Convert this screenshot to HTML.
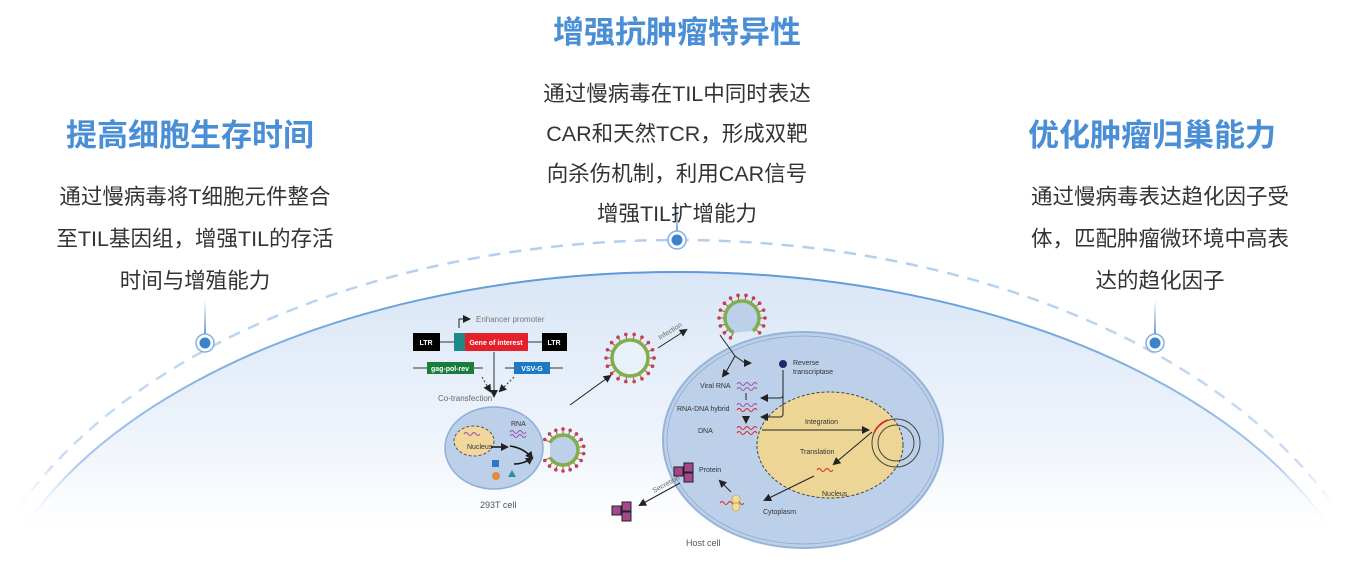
<!DOCTYPE html>
<html><head><meta charset="utf-8">
<style>
html,body{margin:0;padding:0;background:#fff;width:1350px;height:570px;overflow:hidden;}
body{position:relative;font-family:"Liberation Sans","Noto Sans CJK SC",sans-serif;}
.t{position:absolute;color:#4a8fd6;font-weight:bold;font-size:31px;text-align:center;white-space:nowrap;line-height:40px;}
.b{position:absolute;color:#333;font-size:21.5px;text-align:center;line-height:42px;white-space:nowrap;}
svg{position:absolute;left:0;top:0;}
</style></head><body>
<svg width="1350" height="570" viewBox="0 0 1350 570" font-family="Liberation Sans, sans-serif">
<defs>
<linearGradient id="dome" x1="0" y1="272" x2="0" y2="530" gradientUnits="userSpaceOnUse">
<stop offset="0" stop-color="#d9e6f6"/><stop offset="0.6" stop-color="#edf3fb"/><stop offset="1" stop-color="#ffffff"/>
</linearGradient>
<linearGradient id="edge" x1="0" y1="272" x2="0" y2="530" gradientUnits="userSpaceOnUse">
<stop offset="0" stop-color="#5d9ad9"/><stop offset="0.75" stop-color="#a9c8ec"/><stop offset="1" stop-color="#ffffff" stop-opacity="0"/>
</linearGradient>
<linearGradient id="dash" x1="0" y1="240" x2="0" y2="520" gradientUnits="userSpaceOnUse">
<stop offset="0" stop-color="#b3cfee"/><stop offset="0.8" stop-color="#c9dcf3"/><stop offset="1" stop-color="#fff" stop-opacity="0"/>
</linearGradient>
<linearGradient id="vl" x1="0" y1="0" x2="0" y2="1"><stop offset="0" stop-color="#ffffff"/><stop offset="1" stop-color="#4a8fd6"/></linearGradient>
<marker id="ah" markerWidth="8" markerHeight="8" refX="6" refY="4" orient="auto" markerUnits="userSpaceOnUse"><path d="M0,0 L8,4 L0,8 Z" fill="#222"/></marker>
</defs>
<ellipse cx="677" cy="672" rx="700" ry="400" fill="url(#dome)" stroke="url(#edge)" stroke-width="2"/>
<rect x="0" y="530" width="1350" height="40" fill="#fff"/>
<ellipse cx="677" cy="690" rx="720" ry="450" fill="none" stroke="url(#dash)" stroke-width="2.5" stroke-dasharray="12 9"/>
<rect x="0" y="540" width="1350" height="30" fill="#fff"/>
<rect x="204" y="300" width="2" height="40" fill="url(#vl)"/>
<rect x="676" y="205" width="2" height="32" fill="url(#vl)"/>
<rect x="1154" y="300" width="2" height="40" fill="url(#vl)"/>
<g fill="#fff" stroke="#7fb0e3" stroke-width="1.5">
<circle cx="205" cy="343" r="9"/><circle cx="677" cy="240" r="9"/><circle cx="1155" cy="343" r="9"/></g>
<g fill="#3f82cc"><circle cx="205" cy="343" r="5.5"/><circle cx="677" cy="240" r="5.5"/><circle cx="1155" cy="343" r="5.5"/></g>

<path d="M459,328 V319 H469" stroke="#222" fill="none" marker-end="url(#ah)"/>
<text x="476" y="322" font-size="8" fill="#777">Enhancer promoter</text>
<line x1="413" y1="342" x2="567" y2="342" stroke="#333"/>
<rect x="413" y="333" width="27" height="18" fill="#000"/><text x="426" y="345" font-size="7" fill="#fff" font-weight="bold" text-anchor="middle">LTR</text>
<rect x="454" y="333" width="11" height="18" fill="#1e8a86"/>
<rect x="465" y="333" width="63" height="18" fill="#e4202a"/><text x="496" y="345" font-size="7" fill="#fff" font-weight="bold" text-anchor="middle">Gene of interest</text>
<rect x="542" y="333" width="25" height="18" fill="#000"/><text x="554" y="345" font-size="7" fill="#fff" font-weight="bold" text-anchor="middle">LTR</text>
<line x1="413" y1="368" x2="483" y2="368" stroke="#333"/>
<rect x="427" y="362" width="47" height="12" fill="#1a7d3c"/><text x="450" y="371" font-size="7" fill="#fff" font-weight="bold" text-anchor="middle">gag-pol-rev</text>
<line x1="505" y1="368" x2="563" y2="368" stroke="#333"/>
<rect x="514" y="362" width="36" height="12" fill="#1e78c2"/><text x="532" y="371" font-size="7" fill="#fff" font-weight="bold" text-anchor="middle">VSV-G</text>
<line x1="494" y1="352" x2="494" y2="396" stroke="#333" marker-end="url(#ah)"/>
<line x1="482" y1="377" x2="490" y2="391" stroke="#333" stroke-dasharray="2 2" marker-end="url(#ah)"/>
<line x1="514" y1="377" x2="500" y2="391" stroke="#333" stroke-dasharray="2 2" marker-end="url(#ah)"/>
<text x="438" y="401" font-size="8" fill="#666">Co-transfection</text>

<ellipse cx="494" cy="448" rx="49" ry="41" fill="#bcd0ea" stroke="#8faed6" stroke-width="1.5"/>
<ellipse cx="474" cy="441" rx="20" ry="15" fill="#f0d79b" stroke="#555" stroke-dasharray="3 2"/>
<text x="467" y="449" font-size="7" fill="#333">Nucleus</text>
<path d="M464,434 q2,-3 4,0 t4,0 t4,0 t4,0" stroke="#a04bb0" fill="none"/>
<text x="511" y="426" font-size="7" fill="#333">RNA</text>
<path d="M510,432 q2,-3 4,0 t4,0 t4,0 t4,0 M510,436 q2,-3 4,0 t4,0 t4,0 t4,0" stroke="#a04bb0" fill="none"/>
<path d="M491,447 H507" stroke="#111" stroke-width="1.5" marker-end="url(#ah)"/>
<path d="M510,446 q14,2 22,12" stroke="#111" stroke-width="1.5" fill="none" marker-end="url(#ah)"/>
<path d="M514,464 q10,0 18,-6" stroke="#111" stroke-width="1.5" fill="none" marker-end="url(#ah)"/>
<rect x="492" y="460" width="7" height="7" fill="#2f77c0"/>
<circle cx="496" cy="476" r="4" fill="#e88a3a"/>
<path d="M508,477 l4,-7 l4,7z" fill="#2a8fa0"/>
<text x="480" y="508" font-size="9" fill="#555">293T cell</text>
<g id="viruses"></g>

<path d="M570,405 L610,376" stroke="#222" marker-end="url(#ah)"/>
<path d="M658,348 L686,330" stroke="#222" marker-end="url(#ah)"/>
<text x="660" y="340" font-size="7" fill="#666" transform="rotate(-32 660 340)">Infection</text>

<ellipse cx="803" cy="440" rx="140" ry="108" fill="#bcd0ea" stroke="#97b4d8" stroke-width="2"/>
<ellipse cx="803" cy="440" rx="136" ry="104" fill="none" stroke="#8aa6cc" stroke-width="0.7"/>
<ellipse cx="830" cy="445" rx="73" ry="53" fill="#ecd595" stroke="#444" stroke-dasharray="3 2"/>
<circle cx="896" cy="443" r="24" fill="none" stroke="#444"/>
<circle cx="896" cy="443" r="18" fill="none" stroke="#444"/>
<path d="M874,433 a24,24 0 0 1 14,-13" stroke="#e02020" stroke-width="1.5" fill="none"/>
<circle cx="783" cy="364" r="4" fill="#1a2a6c"/>
<text x="793" y="365" font-size="7" fill="#333">Reverse</text>
<text x="793" y="374" font-size="7" fill="#333">transcriptase</text>
<path d="M720,335 L735,356 M735,356 L726,372 M735,356 L745,363" stroke="#222" fill="none"/>
<path d="M726,372 L723,376" stroke="#222" marker-end="url(#ah)"/>
<path d="M745,363 L750,363" stroke="#222" marker-end="url(#ah)"/>
<text x="700" y="388" font-size="7" fill="#333">Viral RNA</text>
<path d="M737,384 q2,-3 4,0 t4,0 t4,0 t4,0 t4,0 M737,389 q2,-3 4,0 t4,0 t4,0 t4,0 t4,0" stroke="#a04bb0" fill="none"/>
<text x="677" y="411" font-size="7" fill="#333">RNA-DNA hybrid</text>
<path d="M737,405 q2,-3 4,0 t4,0 t4,0 t4,0 t4,0" stroke="#a04bb0" fill="none"/>
<path d="M737,410 q2,-3 4,0 t4,0 t4,0 t4,0 t4,0" stroke="#e02020" fill="none"/>
<text x="698" y="433" font-size="7" fill="#333">DNA</text>
<path d="M737,428 q2,-3 4,0 t4,0 t4,0 t4,0 t4,0 M737,433 q2,-3 4,0 t4,0 t4,0 t4,0 t4,0" stroke="#e02020" fill="none"/>
<path d="M746,393 V400 M746,416 V422" stroke="#222" marker-end="url(#ah)"/>
<path d="M783,370 V395 q0,3 -3,3 H762" stroke="#222" fill="none" marker-end="url(#ah)"/>
<path d="M783,395 V414 q0,3 -3,3 H762" stroke="#222" fill="none" marker-end="url(#ah)"/>
<path d="M762,430 H868" stroke="#222" marker-end="url(#ah)"/>
<text x="805" y="424" font-size="7" fill="#333">Integration</text>
<text x="800" y="454" font-size="7" fill="#333">Translation</text>
<path d="M872,432 L834,464" stroke="#222" marker-end="url(#ah)"/>
<path d="M817,470 q2,-3 4,0 t4,0 t4,0 t4,0" stroke="#e02020" fill="none"/>
<text x="822" y="496" font-size="7" fill="#333">Nucleus</text>
<path d="M814,476 L765,500" stroke="#222" marker-end="url(#ah)"/>
<text x="763" y="514" font-size="7" fill="#333">Cytoplasm</text>
<path d="M720,503 q2,-3 4,0 t4,0 t4,0 t4,0 t4,0 t4,0" stroke="#e02020" fill="none"/>
<circle cx="736" cy="499" r="4" fill="#f2df93" stroke="#b89a40" stroke-width="0.6"/>
<circle cx="736" cy="507" r="4" fill="#f2df93" stroke="#b89a40" stroke-width="0.6"/>
<path d="M731,492 L720,481" stroke="#222" marker-end="url(#ah)"/>
<g fill="#a4478e" stroke="#222" stroke-width="1">
<rect x="674" y="467" width="9" height="9"/><rect x="684" y="463" width="9" height="9"/><rect x="684" y="473" width="9" height="9"/>
<rect x="612" y="506" width="9" height="9"/><rect x="622" y="502" width="9" height="9"/><rect x="622" y="512" width="9" height="9"/>
</g>
<text x="699" y="472" font-size="7" fill="#333">Protein</text>
<path d="M680,483 L640,505" stroke="#222" marker-end="url(#ah)"/>
<text x="654" y="493" font-size="7" fill="#666" transform="rotate(-28 654 493)">Secretion</text>
<text x="686" y="546" font-size="9" fill="#555">Host cell</text>
</svg>

<div class="t" style="left:-10px;width:400px;top:116px;">提高细胞生存时间</div>
<div class="b" style="left:-5px;width:400px;top:176px;">通过慢病毒将T细胞元件整合<br>至TIL基因组，增强TIL的存活<br>时间与增殖能力</div>
<div class="t" style="left:477px;width:400px;top:13px;">增强抗肿瘤特异性</div>
<div class="b" style="left:477px;width:400px;top:74px;line-height:40px;">通过慢病毒在TIL中同时表达<br>CAR和天然TCR，形成双靶<br>向杀伤机制，利用CAR信号<br>增强TIL扩增能力</div>
<div class="t" style="left:952px;width:400px;top:116px;">优化肿瘤归巢能力</div>
<div class="b" style="left:960px;width:400px;top:176px;">通过慢病毒表达趋化因子受<br>体，匹配肿瘤微环境中高表<br>达的趋化因子</div>

<script>
(function(){
var g=document.getElementById('viruses'),s='';
function v(cx,cy,r,a0,a1,inner){
 for(var a=a0;a<=a1;a+=20){var t=a*Math.PI/180,c=Math.cos(t),n=Math.sin(t);
  var x1=cx+c*r,y1=cy+n*r,x2=cx+c*(r+6),y2=cy+n*(r+6);
  s+='<line x1="'+x1+'" y1="'+y1+'" x2="'+x2+'" y2="'+y2+'" stroke="#c2414e" stroke-width="1"/><circle cx="'+x2+'" cy="'+y2+'" r="1.8" fill="#c2414e"/>';}
 var la=(a1-a0)>180?1:0,t0=a0*Math.PI/180,t1=a1*Math.PI/180;
 if(a1-a0>=360){s+='<circle cx="'+cx+'" cy="'+cy+'" r="'+r+'" fill="'+(inner||'#bcd0ea')+'" stroke="#7fae4a" stroke-width="3.5"/>';}
 else{s+='<path d="M'+(cx+Math.cos(t0)*r)+','+(cy+Math.sin(t0)*r)+' A'+r+','+r+' 0 '+la+' 1 '+(cx+Math.cos(t1)*r)+','+(cy+Math.sin(t1)*r)+'" fill="#bcd0ea" stroke="#7fae4a" stroke-width="3.5"/>';}
}
v(563,450,15,-150,150);
v(630,358,18,0,360,'#e8f0f8');
v(742,318,17,-240,50);
g.innerHTML=s;
})();
</script>
</body></html>
